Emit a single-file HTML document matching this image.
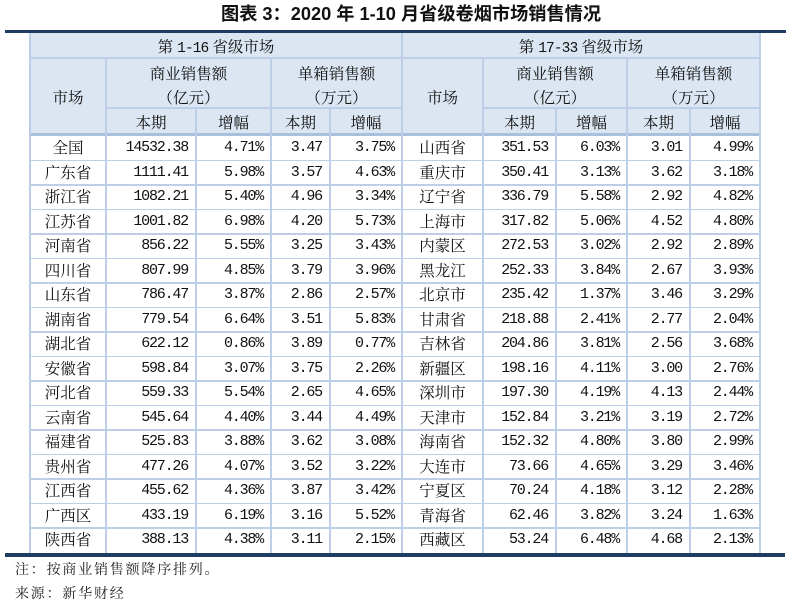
<!DOCTYPE html>
<html><head><meta charset="utf-8">
<style>
*{margin:0;padding:0;box-sizing:border-box}
html,body{width:791px;height:605px;background:#fff;overflow:hidden}
body{position:relative;font-family:"Liberation Serif","Noto Serif CJK SC",serif;color:#111}
.a{position:absolute}
.title{left:221px;top:3px;font-family:"Liberation Sans","Noto Sans CJK SC",sans-serif;font-weight:bold;font-size:18.2px;line-height:22px;color:#111;white-space:nowrap}
.thick{background:#1f3c62}
.hbg{background:#dce6f2}
.h{background:#bccfe6}
.hd{background:#a9c0dd}
.v{background:#bccfe6}
.ht{position:absolute;font-size:15.5px;line-height:20px;white-space:nowrap;transform:translateX(-50%);font-family:"Noto Serif CJK SC",serif}
.ht .n{font-family:"Liberation Mono",monospace;font-size:14.5px;letter-spacing:-0.9px}
.grid{position:absolute;left:30px;top:135.5px;width:730px;display:grid;grid-template-columns:76px 90px 75px 59px 72px 81px 73px 71px 63px 70px;grid-auto-rows:24.5px}
.grid div{height:24.5px;display:flex;align-items:center;justify-content:flex-end;white-space:nowrap;font-family:"Liberation Mono",monospace;font-size:15px;letter-spacing:-1.2px;padding-right:8px;line-height:1}
.grid div.c{justify-content:center;padding-right:0;font-family:"Noto Serif CJK SC",serif;font-size:15.5px;letter-spacing:0}
.note{left:15px;font-family:"Noto Serif CJK SC",serif;font-size:14px;letter-spacing:1.8px;line-height:20px;color:#222;white-space:nowrap}
</style></head><body>
<div class="a title">图表 3：2020 年 1-10 月省级卷烟市场销售情况</div>
<div class="a thick" style="left:5px;top:30px;width:781px;height:3px"></div>
<div class="a hbg" style="left:30px;top:33px;width:730px;height:102px"></div>

<div class="a h" style="left:30px;top:57px;width:730px;height:2px"></div>
<div class="a h" style="left:106px;top:107px;width:296px;height:2px"></div>
<div class="a h" style="left:483px;top:107px;width:277px;height:2px"></div>
<div class="a hd" style="left:30px;top:133px;width:730px;height:2.5px"></div>

<div class="a h" style="left:30px;top:159.5px;width:730px;height:1.5px"></div>
<div class="a h" style="left:30px;top:184px;width:730px;height:1.5px"></div>
<div class="a h" style="left:30px;top:208.5px;width:730px;height:1.5px"></div>
<div class="a h" style="left:30px;top:233px;width:730px;height:1.5px"></div>
<div class="a h" style="left:30px;top:257.5px;width:730px;height:1.5px"></div>
<div class="a h" style="left:30px;top:282px;width:730px;height:1.5px"></div>
<div class="a h" style="left:30px;top:306.5px;width:730px;height:1.5px"></div>
<div class="a h" style="left:30px;top:331px;width:730px;height:1.5px"></div>
<div class="a h" style="left:30px;top:355.5px;width:730px;height:1.5px"></div>
<div class="a h" style="left:30px;top:380px;width:730px;height:1.5px"></div>
<div class="a h" style="left:30px;top:404.5px;width:730px;height:1.5px"></div>
<div class="a h" style="left:30px;top:429px;width:730px;height:1.5px"></div>
<div class="a h" style="left:30px;top:453.5px;width:730px;height:1.5px"></div>
<div class="a h" style="left:30px;top:478px;width:730px;height:1.5px"></div>
<div class="a h" style="left:30px;top:502.5px;width:730px;height:1.5px"></div>
<div class="a h" style="left:30px;top:527px;width:730px;height:1.5px"></div>

<div class="a v" style="left:29px;top:33px;width:2px;height:520px"></div>
<div class="a v" style="left:105px;top:58px;width:2px;height:495px"></div>
<div class="a v" style="left:195px;top:108px;width:2px;height:445px"></div>
<div class="a v" style="left:270px;top:58px;width:2px;height:495px"></div>
<div class="a v" style="left:329px;top:108px;width:2px;height:445px"></div>
<div class="a v" style="left:401px;top:33px;width:2px;height:520px"></div>
<div class="a v" style="left:482px;top:58px;width:2px;height:495px"></div>
<div class="a v" style="left:555px;top:108px;width:2px;height:445px"></div>
<div class="a v" style="left:626px;top:58px;width:2px;height:495px"></div>
<div class="a v" style="left:689px;top:108px;width:2px;height:445px"></div>
<div class="a v" style="left:759px;top:33px;width:2px;height:520px"></div>

<div class="a thick" style="left:5px;top:553px;width:780px;height:3.5px"></div>

<div class="ht" style="left:216px;top:36px">第 <span class="n">1-16</span> 省级市场</div>
<div class="ht" style="left:581px;top:36px">第 <span class="n">17-33</span> 省级市场</div>
<div class="ht" style="left:68px;top:87px">市场</div>
<div class="ht" style="left:442.5px;top:87px">市场</div>
<div class="ht" style="left:188.5px;top:63px">商业销售额</div>
<div class="ht" style="left:188.5px;top:87px">（亿元）</div>
<div class="ht" style="left:336.5px;top:63px">单箱销售额</div>
<div class="ht" style="left:336.5px;top:87px">（万元）</div>
<div class="ht" style="left:555px;top:63px">商业销售额</div>
<div class="ht" style="left:555px;top:87px">（亿元）</div>
<div class="ht" style="left:693.5px;top:63px">单箱销售额</div>
<div class="ht" style="left:693.5px;top:87px">（万元）</div>
<div class="ht" style="left:151px;top:112px">本期</div>
<div class="ht" style="left:233.5px;top:112px">增幅</div>
<div class="ht" style="left:300.5px;top:112px">本期</div>
<div class="ht" style="left:366px;top:112px">增幅</div>
<div class="ht" style="left:519.5px;top:112px">本期</div>
<div class="ht" style="left:591.5px;top:112px">增幅</div>
<div class="ht" style="left:658.5px;top:112px">本期</div>
<div class="ht" style="left:725px;top:112px">增幅</div>

<div class="grid">
<div class="c">全国</div><div>14532.38</div><div>4.71%</div><div>3.47</div><div>3.75%</div><div class="c">山西省</div><div>351.53</div><div>6.03%</div><div>3.01</div><div>4.99%</div>
<div class="c">广东省</div><div>1111.41</div><div>5.98%</div><div>3.57</div><div>4.63%</div><div class="c">重庆市</div><div>350.41</div><div>3.13%</div><div>3.62</div><div>3.18%</div>
<div class="c">浙江省</div><div>1082.21</div><div>5.40%</div><div>4.96</div><div>3.34%</div><div class="c">辽宁省</div><div>336.79</div><div>5.58%</div><div>2.92</div><div>4.82%</div>
<div class="c">江苏省</div><div>1001.82</div><div>6.98%</div><div>4.20</div><div>5.73%</div><div class="c">上海市</div><div>317.82</div><div>5.06%</div><div>4.52</div><div>4.80%</div>
<div class="c">河南省</div><div>856.22</div><div>5.55%</div><div>3.25</div><div>3.43%</div><div class="c">内蒙区</div><div>272.53</div><div>3.02%</div><div>2.92</div><div>2.89%</div>
<div class="c">四川省</div><div>807.99</div><div>4.85%</div><div>3.79</div><div>3.96%</div><div class="c">黑龙江</div><div>252.33</div><div>3.84%</div><div>2.67</div><div>3.93%</div>
<div class="c">山东省</div><div>786.47</div><div>3.87%</div><div>2.86</div><div>2.57%</div><div class="c">北京市</div><div>235.42</div><div>1.37%</div><div>3.46</div><div>3.29%</div>
<div class="c">湖南省</div><div>779.54</div><div>6.64%</div><div>3.51</div><div>5.83%</div><div class="c">甘肃省</div><div>218.88</div><div>2.41%</div><div>2.77</div><div>2.04%</div>
<div class="c">湖北省</div><div>622.12</div><div>0.86%</div><div>3.89</div><div>0.77%</div><div class="c">吉林省</div><div>204.86</div><div>3.81%</div><div>2.56</div><div>3.68%</div>
<div class="c">安徽省</div><div>598.84</div><div>3.07%</div><div>3.75</div><div>2.26%</div><div class="c">新疆区</div><div>198.16</div><div>4.11%</div><div>3.00</div><div>2.76%</div>
<div class="c">河北省</div><div>559.33</div><div>5.54%</div><div>2.65</div><div>4.65%</div><div class="c">深圳市</div><div>197.30</div><div>4.19%</div><div>4.13</div><div>2.44%</div>
<div class="c">云南省</div><div>545.64</div><div>4.40%</div><div>3.44</div><div>4.49%</div><div class="c">天津市</div><div>152.84</div><div>3.21%</div><div>3.19</div><div>2.72%</div>
<div class="c">福建省</div><div>525.83</div><div>3.88%</div><div>3.62</div><div>3.08%</div><div class="c">海南省</div><div>152.32</div><div>4.80%</div><div>3.80</div><div>2.99%</div>
<div class="c">贵州省</div><div>477.26</div><div>4.07%</div><div>3.52</div><div>3.22%</div><div class="c">大连市</div><div>73.66</div><div>4.65%</div><div>3.29</div><div>3.46%</div>
<div class="c">江西省</div><div>455.62</div><div>4.36%</div><div>3.87</div><div>3.42%</div><div class="c">宁夏区</div><div>70.24</div><div>4.18%</div><div>3.12</div><div>2.28%</div>
<div class="c">广西区</div><div>433.19</div><div>6.19%</div><div>3.16</div><div>5.52%</div><div class="c">青海省</div><div>62.46</div><div>3.82%</div><div>3.24</div><div>1.63%</div>
<div class="c">陕西省</div><div>388.13</div><div>4.38%</div><div>3.11</div><div>2.15%</div><div class="c">西藏区</div><div>53.24</div><div>6.48%</div><div>4.68</div><div>2.13%</div>
</div>

<div class="a note" style="top:559px">注：按商业销售额降序排列。</div>
<div class="a note" style="top:583px">来源：新华财经</div>
</body></html>
